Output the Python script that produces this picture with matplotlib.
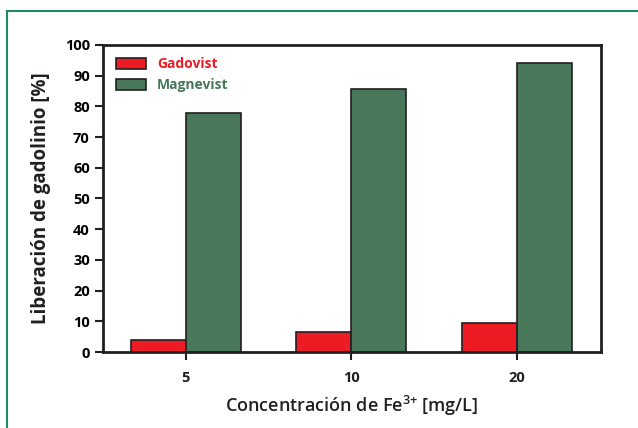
import numpy as np
import matplotlib
matplotlib.use("Agg")
import matplotlib.pyplot as plt
from matplotlib.patches import Rectangle

# data
categories = ['5', '10', '20']
gadovist = [4.0, 6.6, 9.5]
magnevist = [78.0, 85.7, 94.1]
series_names = ['Gadovist', 'Magnevist']
series_colors = ['#ed1c24', '#48775a']

plt.rcParams['font.family'] = ['Open Sans', 'DejaVu Sans']
plt.rcParams['mathtext.fontset'] = 'custom'
plt.rcParams['mathtext.rm'] = 'Open Sans:semibold'
plt.rcParams['mathtext.default'] = 'rm'

fig = plt.figure(figsize=(6.38, 4.28), dpi=100)

# green frame around the figure (top and left only)
fig.add_artist(Rectangle((7 / 638, -0.1), 1.2, 1 - 11 / 428 + 0.1,
                         transform=fig.transFigure, fill=False,
                         edgecolor='#1f8a6a', linewidth=1.5))

ax = fig.add_axes([103 / 638, 1 - 352 / 428, 498 / 638, 307 / 428])

x = np.arange(len(categories))
w = 0.333
ax.bar(x - w / 2, gadovist, w, color=series_colors[0], edgecolor='#231f20',
       linewidth=1.2, label=series_names[0])
ax.bar(x + w / 2, magnevist, w, color=series_colors[1], edgecolor='#231f20',
       linewidth=1.2, label=series_names[1])

ax.set_xlim(-0.5, 2.51)
ax.set_ylim(0, 100)
ax.set_yticks(range(0, 101, 10))
ax.set_xticks(x)
ax.set_xticklabels(categories)

for s in ax.spines.values():
    s.set_linewidth(2)
    s.set_color('#231f20')

ax.tick_params(axis='both', direction='out', width=1.5, length=6,
               color='#231f20', labelsize=10.5)
ax.tick_params(axis='x', pad=8, labelcolor='#231f20')
for lab in ax.get_yticklabels() + ax.get_xticklabels():
    lab.set_fontweight('bold')

ax.set_ylabel('Liberación de gadolinio [%]', fontsize=13.5, fontweight='bold',
              color='#231f20', labelpad=10)
ax.set_xlabel(r'Concentración de Fe$^{3{+}}$ [mg/L]', fontsize=13,
              fontweight='semibold', color='#231f20', labelpad=6)

leg = ax.legend(loc='upper left', frameon=False, handlelength=2.2,
                handleheight=0.8, borderaxespad=0.5, labelspacing=0.5,
                handletextpad=0.8, prop={'weight': 'bold', 'size': 10})
for txt, c in zip(leg.get_texts(), series_colors):
    txt.set_color(c)

fig.savefig('out.png', dpi=100)
